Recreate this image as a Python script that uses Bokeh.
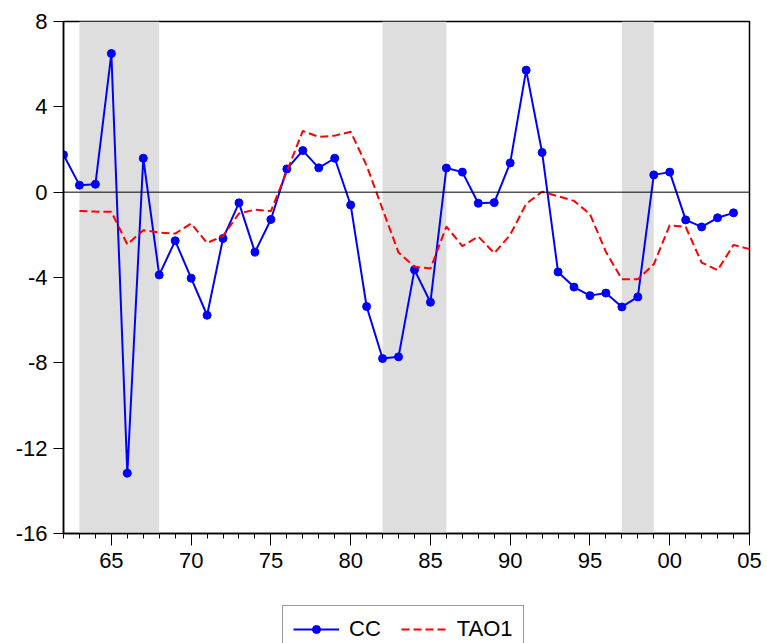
from bokeh.plotting import figure
from bokeh.layouts import column
from bokeh.models import (Range1d, FixedTicker, Span, BoxAnnotation, Legend, LegendItem)
from bokeh.embed import file_html
from bokeh.resources import INLINE

# Annual series
cc_years = list(range(1962, 2005))
cc = [1.75, 0.33, 0.37, 6.5, -13.17, 1.59, -3.88, -2.28, -4.03, -5.77,
      -2.17, -0.5, -2.81, -1.28, 1.09, 1.95, 1.14, 1.59, -0.6, -5.36,
      -7.8, -7.72, -3.64, -5.16, 1.13, 0.94, -0.52, -0.49, 1.37, 5.72,
      1.86, -3.74, -4.45, -4.85, -4.73, -5.38, -4.91, 0.81, 0.94, -1.3,
      -1.63, -1.2, -0.97]

tao1_years = list(range(1963, 2006))
tao1 = [-0.88, -0.91, -0.92, -2.45, -1.78, -1.89, -1.94, -1.47, -2.38, -2.05,
        -1.0, -0.82, -0.89, 0.97, 2.87, 2.59, 2.65, 2.83, 1.25, -0.8,
        -2.83, -3.5, -3.58, -1.61, -2.53, -2.08, -2.86, -2.0, -0.55, 0.02,
        -0.19, -0.41, -1.03, -2.8, -4.08, -4.08, -3.38, -1.55, -1.63, -3.3,
        -3.66, -2.47, -2.67]

# Shaded periods
shade_start = [1963, 1982, 1997]
shade_end = [1968, 1986, 1999]

# Axis ticks
y_ticks = [-16, -12, -8, -4, 0, 4, 8]
y_labels = ["-16", "-12", "-8", "-4", "0", "4", "8"]
x_major = [1965, 1970, 1975, 1980, 1985, 1990, 1995, 2000, 2005]
x_labels = ["65", "70", "75", "80", "85", "90", "95", "00", "05"]

FONT = "Liberation Sans"
BLUE = "#0000FF"
RED = "#FF0000"
DASH = "8 4"

p = figure(width=767, height=600, output_backend="svg", toolbar_location=None,
           x_range=Range1d(1962, 2005), y_range=Range1d(-16, 8),
           min_border_left=63, min_border_right=18, min_border_top=21,
           min_border_bottom=67)
p.background_fill_color = "white"
p.border_fill_color = "white"
p.outline_line_color = "black"
p.outline_line_width = 1.5
p.xgrid.visible = False
p.ygrid.visible = False

for s, e in zip(shade_start, shade_end):
    p.add_layout(BoxAnnotation(left=s, right=e, fill_color="#DEDEDE", fill_alpha=1.0,
                               line_alpha=0, level="underlay"))

p.add_layout(Span(location=0, dimension="width", line_color="black", line_width=1))

p.line(cc_years, cc, line_color=BLUE, line_width=2)
p.scatter(cc_years, cc, size=8, fill_color=BLUE, line_color=BLUE)
p.line(tao1_years, tao1, line_color=RED, line_width=2, line_dash=DASH)

# Axes
xa = p.xaxis[0]
xa.ticker = FixedTicker(ticks=x_major, minor_ticks=list(range(1962, 2006)))
xa.major_label_overrides = {y: l for y, l in zip(x_major, x_labels)}
xa.major_tick_out = 12
xa.major_tick_in = 0
xa.minor_tick_out = 5
xa.minor_tick_in = 0
xa.minor_tick_line_color = "black"
xa.major_label_standoff = 7

ya = p.yaxis[0]
ya.ticker = FixedTicker(ticks=y_ticks)
ya.major_label_overrides = {v: l for v, l in zip(y_ticks, y_labels)}
ya.major_tick_out = 10
ya.major_tick_in = 0
ya.minor_tick_line_color = None
ya.major_label_standoff = 6

for ax in (xa, ya):
    ax.axis_line_color = "black"
    ax.axis_line_width = 1.5
    ax.major_tick_line_color = "black"
    ax.major_label_text_font = FONT
    ax.major_label_text_font_size = "22px"
    ax.major_label_text_color = "black"

# Legend strip beneath the chart; its key renderers reuse the series but
# sit outside this strip's visible range, so only the legend shows.
q = figure(width=767, height=43, output_backend="svg", toolbar_location=None,
           x_range=Range1d(0, 1), y_range=Range1d(0, 1),
           x_axis_type=None, y_axis_type=None,
           min_border_left=0, min_border_right=0, min_border_top=0, min_border_bottom=0)
q.outline_line_color = None
q.background_fill_color = "white"
q.border_fill_color = "white"
q.xgrid.visible = False
q.ygrid.visible = False
k_line = q.line(cc_years, cc, line_color=BLUE, line_width=2)
k_dot = q.scatter(cc_years, cc, size=6, fill_color=BLUE, line_color=BLUE)
k_tao = q.line(tao1_years, tao1, line_color=RED, line_width=2, line_dash=DASH)

legend = Legend(items=[LegendItem(label="CC", renderers=[k_line, k_dot]),
                       LegendItem(label="TAO1", renderers=[k_tao])],
                orientation="horizontal", location=(219, -10),
                glyph_width=46, glyph_height=20, label_standoff=10, spacing=20,
                padding=10, margin=0,
                label_text_font=FONT, label_text_font_size="22px",
                label_text_color="black",
                border_line_color="#333333", border_line_width=1,
                background_fill_color="white", background_fill_alpha=1.0)
q.add_layout(legend, "center")

layout = column(p, q, spacing=0)
open("out.html", "w").write(file_html(layout, INLINE))
